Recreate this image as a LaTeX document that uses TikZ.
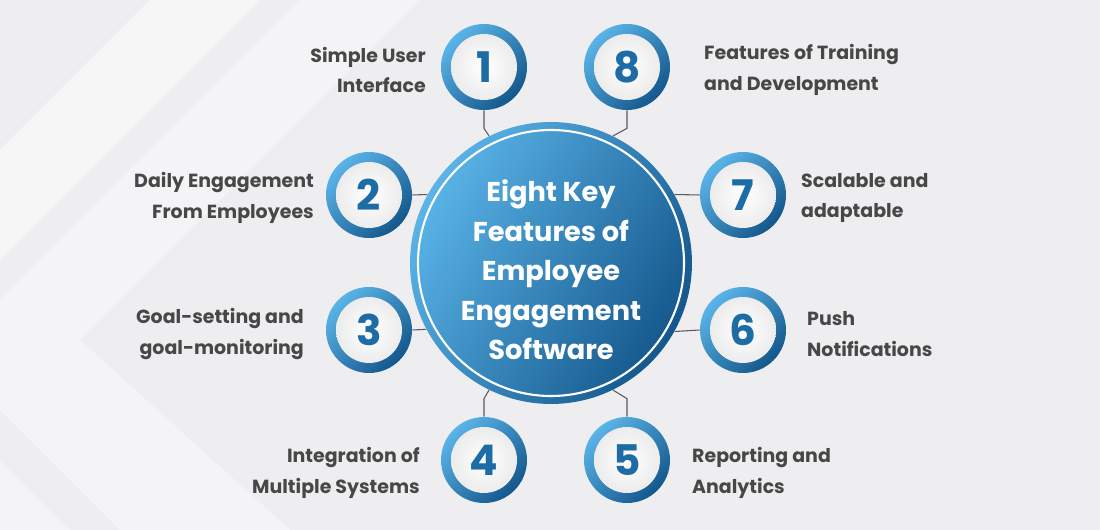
\documentclass[tikz,border=0pt]{standalone}
\usepackage{fontspec}
\setmainfont{Poppins}
\usetikzlibrary{positioning}
\definecolor{bgray}{HTML}{EEEEF0}
\definecolor{txtgray}{HTML}{474747}
\definecolor{blueL}{HTML}{5AB4E8}
\definecolor{blueD}{HTML}{14578C}
\definecolor{numblue}{HTML}{1E6CA6}
\tikzset{
  ring/.style={circle, minimum size=1.72cm, inner sep=0pt, left color=blueL, right color=blueD, shading angle=45},
  num/.style={circle, minimum size=1.32cm, inner sep=0pt, inner color=white, outer color=gray!15, text=numblue, font=\fontsize{24}{24}\selectfont\bfseries},
  lbl/.style={text=txtgray, font=\fontsize{10.8}{17.5}\selectfont\bfseries},
  link/.style={draw=gray!70!black, line width=0.6pt}
}
\begin{document}
\begin{tikzpicture}[x=0.02cm,y=-0.02cm]
  \useasboundingbox (0,0) rectangle (1100,530);
  \fill[bgray] (0,0) rectangle (1100,530);
  \fill[white,opacity=0.5] (0,150) -- (150,0) -- (260,0) -- (0,260) -- cycle;
  \fill[white,opacity=0.4] (0,300) -- (300,0) -- (420,0) -- (80,340) -- (290,530) -- (120,530) -- (0,410) -- cycle;
  \fill[white,opacity=0.35] (0,460) -- (70,530) -- (0,530) -- cycle;

  % central circle
  \node[circle, minimum size=5.64cm, inner sep=0pt, left color=blueL, right color=blueD, shading angle=60] (main) at (551,263) {};
  \draw[white, line width=1.2pt] (main.center) circle (133);
  \node[text=white, align=center, font=\fontsize{15.5}{22.5}\selectfont\bfseries] (title) at (551,270)
    {Eight Key\\Features of\\Employee\\Engagement\\Software};

  % numbered circles
  \foreach \n/\x/\y in {1/484/67, 8/627/67, 2/369/195, 7/743/195, 3/369/330, 6/743/330, 4/484/460, 5/627/460}{
    \node[ring] (r\n) at (\x,\y) {};
    \node[num] (n\n) at (\x,\y) {\n};
  }

  % connectors
  \draw[link] (r1.south) -- ++(0,18) -- (main.116);
  \draw[link] (r8.south) -- ++(0,18) -- (main.64);
  \draw[link] (r4.north) -- ++(0,-18) -- (main.244);
  \draw[link] (r5.north) -- ++(0,-18) -- (main.296);
  \draw[link] (r2.east) -- (main.151);
  \draw[link] (r7.west) -- (main.29);
  \draw[link] (r3.east) -- (main.208.6);
  \draw[link] (r6.west) -- (main.331.4);

  % labels
  \node[lbl, align=right, anchor=east] (t1) at (432,70) {Simple User\\Interface};
  \node[lbl, align=right, anchor=east] (t2) at (320,198) {Daily Engagement\\From Employees};
  \node[lbl, align=right, anchor=east] (t3) at (310,334) {Goal-setting and\\goal-monitoring};
  \node[lbl, align=right, anchor=east] (t4) at (426,473) {Integration of\\Multiple Systems};
  \node[lbl, align=left, anchor=west] (t8) at (698,70) {Features of Training\\and Development};
  \node[lbl, align=left, anchor=west] (t7) at (795,198) {Scalable and\\adaptable};
  \node[lbl, align=left, anchor=west] (t6) at (801,334) {Push\\Notifications};
  \node[lbl, align=left, anchor=west] (t5) at (686,473) {Reporting and\\Analytics};
\end{tikzpicture}
\end{document}
